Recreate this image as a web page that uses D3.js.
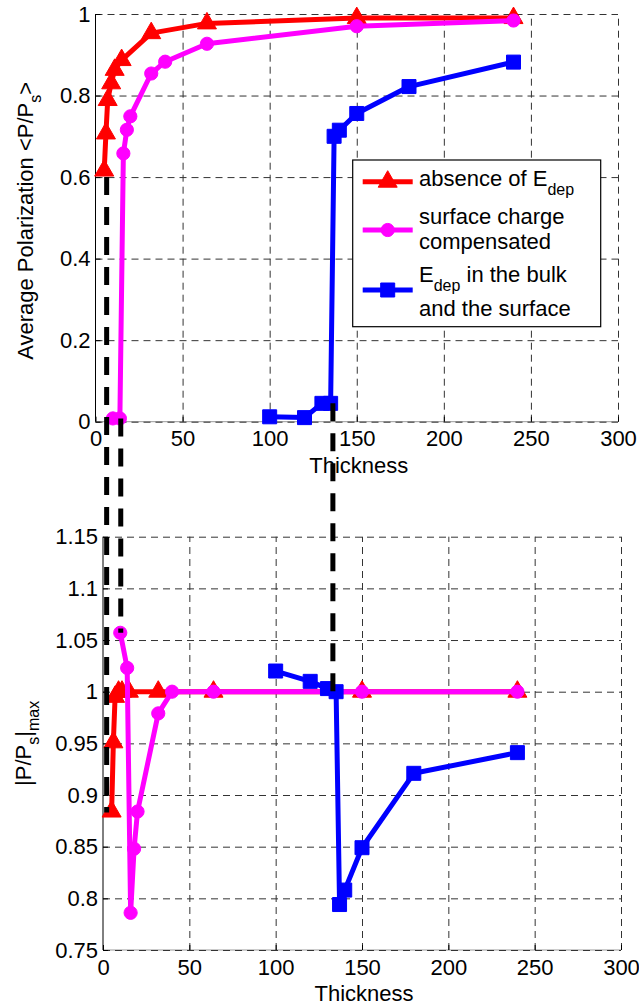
<!DOCTYPE html>
<html>
<head>
<meta charset="utf-8">
<script src="https://cdnjs.cloudflare.com/ajax/libs/d3/7.8.5/d3.min.js"></script>
<style>
  body { margin: 0; background: #fff; }
  svg { display: block; font-family: "Liberation Sans", Arial, sans-serif; }
  text { white-space: pre; }
</style>
</head>
<body>
<div class="chart"></div>
<script>
// Polarization vs thickness, two stacked panels

// absence of E_dep
var redThickness = [5, 6, 7, 9, 11, 15, 32, 64, 150, 240]
var redAvg = [0.616, 0.707, 0.789, 0.83, 0.863, 0.887, 0.953, 0.977, 0.99, 0.99]
var redMax = [0.884, 0.951, 0.995, 1.0, 1.0, 1.0, 1.0, 1.0, 1.0, 1.0]

// surface charge compensated
var magentaThickness = [10, 14, 16, 18, 20, 32, 40, 64, 150, 240]
var magentaAvg = [0.008, 0.008, 0.658, 0.716, 0.749, 0.854, 0.883, 0.927, 0.97, 0.984]
var magentaMax = [1.057, 1.023, 0.786, 0.848, 0.884, 0.979, 1.0, 1.0, 1.0, 1.0]

// E_dep in the bulk and the surface
var blueThickness = [100, 120, 130, 135, 137, 140, 150, 180, 240]
var blueAvg = [0.012, 0.01, 0.045, 0.045, 0.70, 0.715, 0.756, 0.822, 0.882]
var blueMax = [1.02, 1.01, 1.003, 1.0, 0.794, 0.808, 0.849, 0.921, 0.941]

var xTicks = [0, 50, 100, 150, 200, 250, 300]
var topYTicks = [0, 0.2, 0.4, 0.6, 0.8, 1]
var bottomYTicks = [0.75, 0.8, 0.85, 0.9, 0.95, 1, 1.05, 1.1, 1.15]

// black dashed connectors: thickness on top axis, value in top panel, value in bottom panel
var linkThickness = [6.4, 14.5, 136.3]
var linkTop = [0.60, 0.008, 0.045]
var linkBottom = [0.883, 1.057, 1.0]

var series = [
  { color: '#ff0000', marker: 'triangle', x: redThickness, avg: redAvg, max: redMax },
  { color: '#ff00ff', marker: 'circle', x: magentaThickness, avg: magentaAvg, max: magentaMax },
  { color: '#0000ff', marker: 'square', x: blueThickness, avg: blueAvg, max: blueMax }
]

var W = 639, H = 1006
var fontSize = 22

var svg = d3.select('.chart')
  .append('svg')
  .attr('width', W)
  .attr('height', H)

var topX = d3.scaleLinear().domain([0, 300]).range([95.5, 618])
var topY = d3.scaleLinear().domain([0, 1]).range([421.7, 14])
var botX = d3.scaleLinear().domain([0, 300]).range([103, 621])
var botY = d3.scaleLinear().domain([0.75, 1.15]).range([950, 536.7])

function markerPath(type) {
  if (type === 'triangle') return 'M0,-11L9.5,5.5L-9.5,5.5Z'
  if (type === 'square') return 'M-7,-7h14v14h-14Z'
  return d3.symbol().type(d3.symbolCircle).size(Math.PI * 6.6 * 6.6)()
}

function drawPanel(xScale, yScale, yTicks, key) {
  var g = svg.append('g')
  var x0 = xScale.range()[0], x1 = xScale.range()[1]
  var y0 = yScale.range()[0], y1 = yScale.range()[1]

  // x-axis baseline (light) with dashed grid on top
  g.append('line')
    .attr('x1', x0).attr('x2', x1)
    .attr('y1', y0).attr('y2', y0)
    .attr('stroke', '#999')
    .attr('stroke-width', 1)

  // grid
  g.append('g')
    .attr('transform', 'translate(0,' + y0 + ')')
    .call(d3.axisBottom(xScale).tickValues(xTicks.slice(1)).tickSize(-(y0 - y1)).tickFormat(''))
    .call(a => a.select('.domain').remove())
    .selectAll('line')
    .attr('stroke', '#333')
    .attr('stroke-dasharray', '7,5')

  g.append('g')
    .attr('transform', 'translate(' + x0 + ',0)')
    .call(d3.axisLeft(yScale).tickValues(yTicks).tickSize(-(x1 - x0)).tickFormat(''))
    .call(a => a.select('.domain').remove())
    .selectAll('line')
    .attr('stroke', '#333')
    .attr('stroke-dasharray', '7,5')

  // left axis
  var yAxis = g.append('g')
    .attr('transform', 'translate(' + x0 + ',0)')
    .call(d3.axisLeft(yScale).tickValues(yTicks).tickSize(-5).tickPadding(5).tickFormat(d => String(d)))
  yAxis.select('.domain').attr('d', 'M0,' + y0 + 'V' + y1).attr('stroke', '#000')
  yAxis.selectAll('text').attr('font-size', fontSize).attr('font-family', null).attr('fill', '#000')

  // bottom axis
  var xAxis = g.append('g')
    .attr('transform', 'translate(0,' + y0 + ')')
    .call(d3.axisBottom(xScale).tickValues(xTicks).tickSize(-5).tickPadding(9).tickFormat(d => String(d)))
  xAxis.select('.domain').remove()
  xAxis.selectAll('text').attr('font-size', fontSize).attr('font-family', null).attr('fill', '#000')

  // x label
  g.append('text')
    .attr('x', (x0 + x1) / 2 + 2)
    .attr('y', y0 + 51)
    .attr('text-anchor', 'middle')
    .attr('font-size', fontSize)
    .text('Thickness')

  // series
  series.forEach(function(s) {
    var pts = s.x.map((t, i) => [t, s[key][i]])
    g.append('path')
      .datum(pts)
      .attr('fill', 'none')
      .attr('stroke', s.color)
      .attr('stroke-width', 5)
      .attr('stroke-linejoin', 'round')
      .attr('d', d3.line().x(d => xScale(d[0])).y(d => yScale(d[1])))
    g.selectAll(null)
      .data(pts)
      .enter()
      .append('path')
      .attr('transform', d => 'translate(' + xScale(d[0]) + ',' + yScale(d[1]) + ')')
      .attr('d', markerPath(s.marker))
      .attr('fill', s.color)
      .attr('stroke', s.color)
      .attr('stroke-width', 1)
  })
  return g
}

drawPanel(topX, topY, topYTicks, 'avg')
drawPanel(botX, botY, bottomYTicks, 'max')

// y labels
var yl1 = svg.append('text')
  .attr('transform', 'translate(32.5,' + ((topY.range()[0] + topY.range()[1]) / 2 + 3) + ') rotate(-90)')
  .attr('text-anchor', 'middle')
  .attr('font-size', fontSize)
yl1.append('tspan').text('Average Polarization <P/P')
yl1.append('tspan').attr('dy', 8).attr('font-size', 16).text('s')
yl1.append('tspan').attr('dy', -8).text('>')

var yl2 = svg.append('text')
  .attr('transform', 'translate(31,' + ((botY.range()[0] + botY.range()[1]) / 2) + ') rotate(-90)')
  .attr('text-anchor', 'middle')
  .attr('font-size', fontSize)
yl2.append('tspan').text('|P/P')
yl2.append('tspan').attr('dy', 8).attr('font-size', 16).text('s')
yl2.append('tspan').attr('dy', -8).text('|')
yl2.append('tspan').attr('dy', 8).attr('font-size', 16).text('max')

// legend
var lg = svg.append('g')
lg.append('rect')
  .attr('x', 352.7).attr('y', 160)
  .attr('width', 248).attr('height', 166.7)
  .attr('fill', '#fff')
  .attr('stroke', '#000')
  .attr('stroke-width', 1.2)

var legendRowY = [181.7, 230, 290]
series.forEach(function(s, i) {
  lg.append('line')
    .attr('x1', 362.7).attr('x2', 412.7)
    .attr('y1', legendRowY[i]).attr('y2', legendRowY[i])
    .attr('stroke', s.color)
    .attr('stroke-width', 5)
  lg.append('path')
    .attr('transform', 'translate(387.7,' + legendRowY[i] + ')')
    .attr('d', markerPath(s.marker))
    .attr('fill', s.color)
    .attr('stroke', s.color)
})

var t1 = lg.append('text').attr('x', 419).attr('y', 186).attr('font-size', fontSize)
t1.append('tspan').text('absence of E')
t1.append('tspan').attr('dy', 9).attr('font-size', 16).text('dep')

lg.append('text').attr('x', 419).attr('y', 224).attr('font-size', fontSize).text('surface charge')
lg.append('text').attr('x', 419).attr('y', 249).attr('font-size', fontSize).text('compensated')

var t3 = lg.append('text').attr('x', 419).attr('y', 282).attr('font-size', fontSize)
t3.append('tspan').text('E')
t3.append('tspan').attr('dy', 9).attr('font-size', 16).text('dep')
t3.append('tspan').attr('dy', -9).text(' in the bulk')
lg.append('text').attr('x', 419).attr('y', 316).attr('font-size', fontSize).text('and the surface')

// dashed connectors between the panels
svg.append('g')
  .selectAll('line')
  .data(linkThickness)
  .enter()
  .append('line')
  .attr('x1', d => topX(d))
  .attr('x2', d => topX(d))
  .attr('y1', (d, i) => topY(linkTop[i]))
  .attr('y2', (d, i) => botY(linkBottom[i]))
  .attr('stroke', '#000')
  .attr('stroke-width', 5)
  .attr('stroke-dasharray', '18,12')
</script>
</body>
</html>
